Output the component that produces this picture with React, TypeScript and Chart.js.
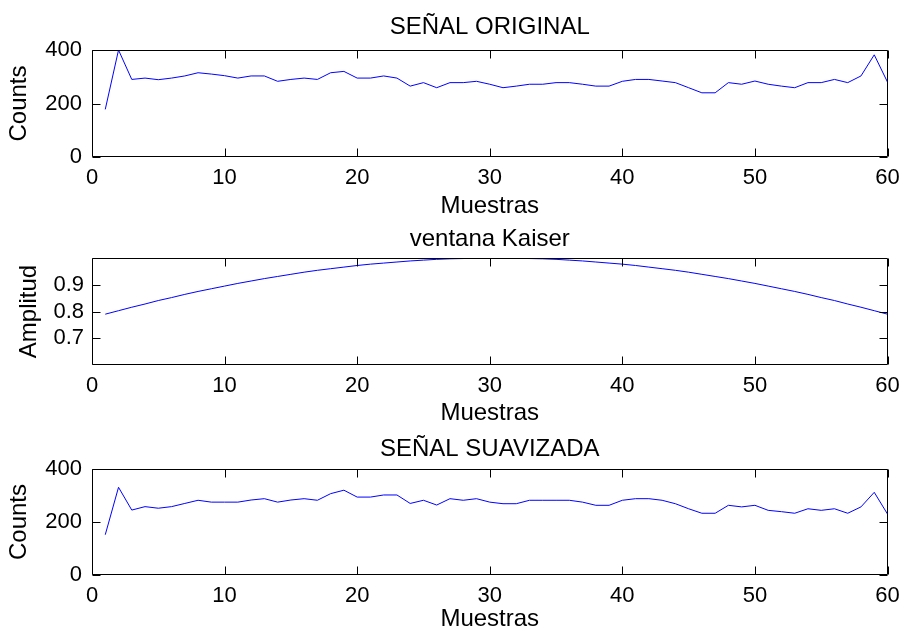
import React, { useEffect, useRef } from "react";
import { Chart, registerables } from "chart.js";

Chart.register(...registerables);

// ---- data ----
const samples = [
  1, 2, 3, 4, 5, 6, 7, 8, 9, 10, 11, 12, 13, 14, 15, 16, 17, 18, 19, 20,
  21, 22, 23, 24, 25, 26, 27, 28, 29, 30, 31, 32, 33, 34, 35, 36, 37, 38, 39, 40,
  41, 42, 43, 44, 45, 46, 47, 48, 49, 50, 51, 52, 53, 54, 55, 56, 57, 58, 59, 60,
];

const original = [
  178, 400, 290, 295, 289, 295, 303, 315, 310, 304, 295, 303, 303, 283, 290, 295, 290, 315, 320, 295,
  295, 303, 295, 265, 278, 259, 278, 278, 283, 272, 259, 265, 272, 272, 278, 278, 272, 265, 265, 283,
  290, 290, 284, 278, 259, 240, 240, 278, 272, 284, 272, 265, 259, 278, 278, 290, 278, 303, 382, 280,
];

const kaiser = [
  0.79, 0.803, 0.816, 0.828, 0.841, 0.852, 0.864, 0.875, 0.885, 0.895, 0.905, 0.914, 0.923, 0.931, 0.939,
  0.947, 0.954, 0.96, 0.966, 0.972, 0.977, 0.981, 0.985, 0.989, 0.992, 0.995, 0.997, 0.998, 0.999, 1.0,
  1.0, 0.999, 0.998, 0.997, 0.995, 0.992, 0.989, 0.985, 0.981, 0.977, 0.972, 0.966, 0.96, 0.954, 0.947,
  0.939, 0.931, 0.923, 0.914, 0.905, 0.895, 0.885, 0.875, 0.864, 0.852, 0.841, 0.828, 0.816, 0.803, 0.79,
];

const smoothed = [
  152, 331, 245, 258, 252, 258, 270, 282, 275, 275, 275, 283, 288, 275, 283, 288, 282, 307, 320, 294,
  294, 302, 302, 270, 282, 264, 288, 282, 288, 275, 269, 269, 282, 282, 282, 282, 275, 263, 263, 282,
  288, 288, 282, 269, 250, 233, 233, 263, 257, 263, 244, 239, 233, 250, 244, 250, 233, 257, 312, 230,
];

const xTickValues = [0, 10, 20, 30, 40, 50, 60];
const countTicks = [0, 200, 400];
const ampTicks = [0.7, 0.8, 0.9];

const titles = ["SEÑAL ORIGINAL", "ventana Kaiser", "SEÑAL SUAVIZADA"];
const xLabel = "Muestras";
const yLabels = ["Counts", "Amplitud", "Counts"];

// ---- layout ----
const W = 902;
const H = 631;
const FONT = '"Liberation Sans", Arial, Helvetica, sans-serif';
const FS_TICK = 22;
const FS_LABEL = 24;
const PLOT_LEFT = 92;
const PLOT_RIGHT = 887.5;
const TICK_LEN = 8;

type Panel = {
  series: number[];
  title: string;
  yLabel: string;
  yMin: number;
  yMax: number;
  yTicks: number[];
  decimals: number;
  plotTop: number;
  plotBottom: number;
  titleY: number;
  xTickPad: number;
  xLabelY: number;
  yLabelX: number;
  yTickPad: number;
};

const panels: Panel[] = [
  {
    series: original, title: titles[0], yLabel: yLabels[0], yMin: 0, yMax: 400, yTicks: countTicks, decimals: 0,
    plotTop: 50, plotBottom: 157, titleY: 27.5, xTickPad: 8, xLabelY: 206.5, yLabelX: 19.5, yTickPad: 10,
  },
  {
    series: kaiser, title: titles[1], yLabel: yLabels[1], yMin: 0.6, yMax: 1.0, yTicks: ampTicks, decimals: 1,
    plotTop: 258, plotBottom: 365, titleY: 239.5, xTickPad: 8, xLabelY: 413, yLabelX: 29, yTickPad: 8,
  },
  {
    series: smoothed, title: titles[2], yLabel: yLabels[2], yMin: 0, yMax: 400, yTicks: countTicks, decimals: 0,
    plotTop: 469, plotBottom: 575, titleY: 449, xTickPad: 8, xLabelY: 621, yLabelX: 19.5, yTickPad: 10,
  },
];

const framePlugin = {
  id: "matlabFrame",
  afterDatasetsDraw(chart: any) {
    const { ctx, chartArea, scales } = chart;
    const xs = scales.x;
    const ys = scales.y;
    const L = Math.round(chartArea.left) + 0.5;
    const R = Math.round(chartArea.right) - 0.5;
    const T = Math.round(chartArea.top) + 0.5;
    const B = Math.round(chartArea.bottom) - 0.5;
    ctx.save();
    ctx.strokeStyle = "#000";
    ctx.lineWidth = 1;
    ctx.beginPath();
    ctx.rect(L, T, R - L, B - T);
    for (const v of xTickValues) {
      const px = Math.round(xs.getPixelForValue(v)) + 0.5;
      ctx.moveTo(px, B);
      ctx.lineTo(px, B - TICK_LEN);
      ctx.moveTo(px, T);
      ctx.lineTo(px, T + TICK_LEN);
    }
    for (const t of ys.ticks) {
      const py = Math.round(ys.getPixelForValue(t.value)) + 0.5;
      ctx.moveTo(L, py);
      ctx.lineTo(L + TICK_LEN, py);
      ctx.moveTo(R, py);
      ctx.lineTo(R - TICK_LEN, py);
    }
    ctx.stroke();
    ctx.restore();
  },
};

function buildConfig(p: Panel): any {
  const lhT = FS_LABEL * 1.2;
  return {
    type: "line",
    data: {
      datasets: [
        {
          data: samples.map((x, i) => ({ x, y: p.series[i] })),
          borderColor: "rgb(0,0,255)",
          borderWidth: 1,
          pointRadius: 0,
          fill: false,
          tension: 0,
        },
      ],
    },
    options: {
      responsive: false,
      maintainAspectRatio: false,
      animation: false,
      events: [],
      devicePixelRatio: 1,
      layout: { padding: { left: 0, right: W - PLOT_RIGHT, top: 0, bottom: 0 } },
      plugins: {
        legend: { display: false },
        tooltip: { enabled: false },
        title: {
          display: true,
          fullSize: false,
          text: p.title,
          color: "#000",
          font: { family: FONT, size: FS_LABEL, weight: "normal", lineHeight: 1.2 },
          padding: { top: p.titleY - lhT / 2, bottom: p.plotTop - p.titleY - lhT / 2 },
        },
      },
      scales: {
        x: {
          type: "linear",
          min: 0,
          max: 60,
          afterBuildTicks: (s: any) => {
            s.ticks = xTickValues.map((v) => ({ value: v }));
          },
          afterFit: (s: any) => {
            s.height = H - p.plotBottom;
            s.paddingLeft = 0;
            s.paddingRight = 0;
          },
          ticks: {
            color: "#000",
            font: { family: FONT, size: FS_TICK },
            padding: p.xTickPad,
            maxRotation: 0,
            autoSkip: false,
          },
          grid: { display: false, drawTicks: false, tickLength: 0 },
          border: { display: false },
          title: {
            display: true,
            text: xLabel,
            color: "#000",
            font: { family: FONT, size: FS_LABEL, lineHeight: 1 },
            padding: { top: 0, bottom: Math.max(0, H - p.xLabelY - FS_LABEL / 2) },
          },
        },
        y: {
          type: "linear",
          min: p.yMin,
          max: p.yMax,
          afterBuildTicks: (s: any) => {
            s.ticks = p.yTicks.map((v) => ({ value: v }));
          },
          afterFit: (s: any) => {
            s.width = PLOT_LEFT;
            s.paddingTop = 0;
            s.paddingBottom = 0;
          },
          ticks: {
            color: "#000",
            font: { family: FONT, size: FS_TICK },
            padding: p.yTickPad,
            autoSkip: false,
            callback: (v: any) => Number(v).toFixed(p.decimals),
          },
          grid: { display: false, drawTicks: false, tickLength: 0 },
          border: { display: false },
          title: {
            display: true,
            text: p.yLabel,
            color: "#000",
            font: { family: FONT, size: FS_LABEL, lineHeight: 1 },
            padding: { top: p.yLabelX - FS_LABEL / 2, bottom: 0 },
          },
        },
      },
    },
    plugins: [framePlugin],
  };
}

function PanelChart({ panel }: { panel: Panel }) {
  const ref = useRef<HTMLCanvasElement | null>(null);
  useEffect(() => {
    if (!ref.current) return;
    const chart = new Chart(ref.current, buildConfig(panel));
    return () => chart.destroy();
  }, [panel]);
  return (
    <canvas
      ref={ref}
      width={W}
      height={H}
      style={{ position: "absolute", left: 0, top: 0, width: W, height: H }}
    />
  );
}

export default function App() {
  return (
    <div
      style={{
        position: "absolute",
        left: 0,
        top: 0,
        width: W,
        height: H,
        background: "#fff",
        overflow: "hidden",
      }}
    >
      {panels.map((p, i) => (
        <PanelChart key={i} panel={p} />
      ))}
    </div>
  );
}
